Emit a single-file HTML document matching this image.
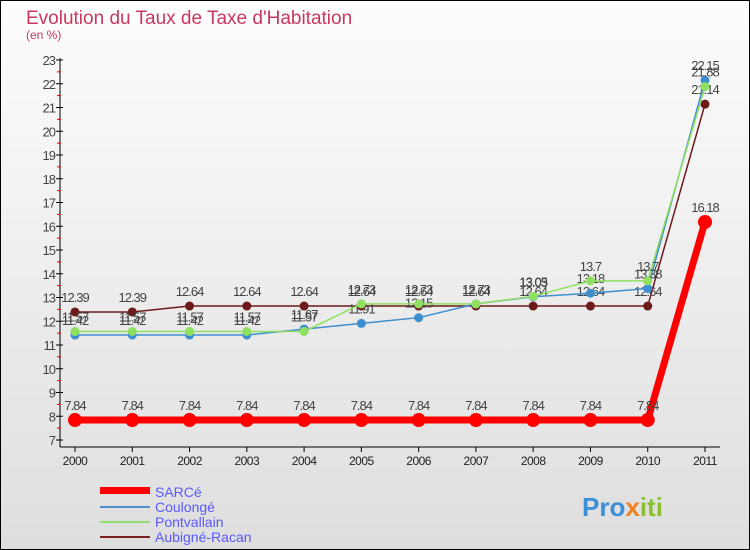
<!DOCTYPE html>
<html><head><meta charset="utf-8"><style>
body{margin:0;width:750px;height:550px;overflow:hidden;font-family:"Liberation Sans",sans-serif}
#c{position:absolute;left:0;top:0;width:748px;height:548px;border:1px solid #000;background:linear-gradient(#fdfdfd,#dedede)}
</style></head><body>
<div id="c">
<svg id="s" width="750" height="550" style="position:absolute;left:-1px;top:-1px">
<text x="26" y="24" font-size="19" fill="#c8385f">Evolution du Taux de Taxe d'Habitation</text>
<text x="26" y="39" font-size="12" fill="#c8385f">(en %)</text>
<g id="ax"></g><g id="ser"></g>
<g>
<rect x="100" y="487" width="50" height="7" fill="#f00"/>
<text x="155" y="497" font-size="14" fill="#5a5aff">SARCé</text>
<line x1="100" y1="507" x2="150" y2="507" stroke="#4e90d0" stroke-width="2"/>
<text x="155" y="512" font-size="14" fill="#5a5aff">Coulongé</text>
<line x1="100" y1="522" x2="150" y2="522" stroke="#8fe070" stroke-width="2"/>
<text x="155" y="527" font-size="14" fill="#5a5aff">Pontvallain</text>
<line x1="100" y1="537" x2="150" y2="537" stroke="#7a2020" stroke-width="2"/>
<text x="155" y="542" font-size="14" fill="#5a5aff">Aubigné-Racan</text>
</g>
<text x="582" y="516" font-size="26" font-weight="bold" fill="#3a8fd8">Pro<tspan fill="#f08020">x</tspan><tspan fill="#8ac030">iti</tspan></text>
</svg></div>
<script>
const years=[2000,2001,2002,2003,2004,2005,2006,2007,2008,2009,2010,2011];
const yTicks=[7,8,9,10,11,12,13,14,15,16,17,18,19,20,21,22,23];
const sarce=[7.84,7.84,7.84,7.84,7.84,7.84,7.84,7.84,7.84,7.84,7.84,16.18];
const coulonge=[11.42,11.42,11.42,11.42,11.67,11.91,12.15,12.73,13.03,13.18,13.38,22.15];
const pontvallain=[11.57,11.57,11.57,11.57,11.57,12.73,12.73,12.73,13.05,13.7,13.7,21.88];
const aubigne=[12.39,12.39,12.64,12.64,12.64,12.64,12.64,12.64,12.64,12.64,12.64,21.14];
const NS="http://www.w3.org/2000/svg";
const x=i=>75+i*(630/11), y=v=>440-(v-7)*23.75;
function mk(p,t,a){const e=document.createElementNS(NS,t);for(const k in a)e.setAttribute(k,a[k]);p.appendChild(e);return e;}
const ax=document.getElementById('ax'),ser=document.getElementById('ser');
let l=mk(ax,'line',{x1:60,y1:58,x2:60,y2:447,stroke:'#000'});


l=mk(ax,'line',{x1:60,y1:447,x2:720,y2:447,stroke:'#000'});


yTicks.forEach(v=>{mk(ax,'line',{x1:56,y1:y(v),x2:63,y2:y(v),stroke:'#000'});
if(v<23)mk(ax,'line',{x1:57,y1:y(v+0.5),x2:61,y2:y(v+0.5),stroke:'#d00'});
const t=mk(ax,'text',{x:55,y:y(v)+5,'font-size':13,fill:'#444','text-anchor':'end','letter-spacing':'-1'});t.textContent=v;

});
years.forEach((yr,i)=>{mk(ax,'line',{x1:x(i),y1:447,x2:x(i),y2:452,stroke:'#000'});
const t=mk(ax,'text',{x:x(i),y:465,'font-size':12,fill:'#222','text-anchor':'middle','letter-spacing':'-0.5'});t.textContent=yr;

});
function series(d,col,w,r,name){
const g=mk(ser,'g',{});


mk(g,'polyline',{points:d.map((v,i)=>x(i)+','+y(v)).join(' '),fill:'none',stroke:col,'stroke-width':w});
d.forEach((v,i)=>{const c=mk(g,'circle',{cx:x(i),cy:y(v),r:r,fill:col});


const t=mk(g,'text',{x:x(i),y:y(v)-10,'font-size':13,fill:'#444','text-anchor':'middle','letter-spacing':'-1'});t.textContent=v;});}
series(aubigne,'#6e1a1a',1.5,4.5,'series-aubigne');
series(coulonge,'#3d8fd0',1.5,4.5,'series-coulonge');
series(pontvallain,'#8fe060',1.5,4.5,'series-pontvallain');
series(sarce,'#f00',7,7,'series-sarce');
</script>
</body></html>
